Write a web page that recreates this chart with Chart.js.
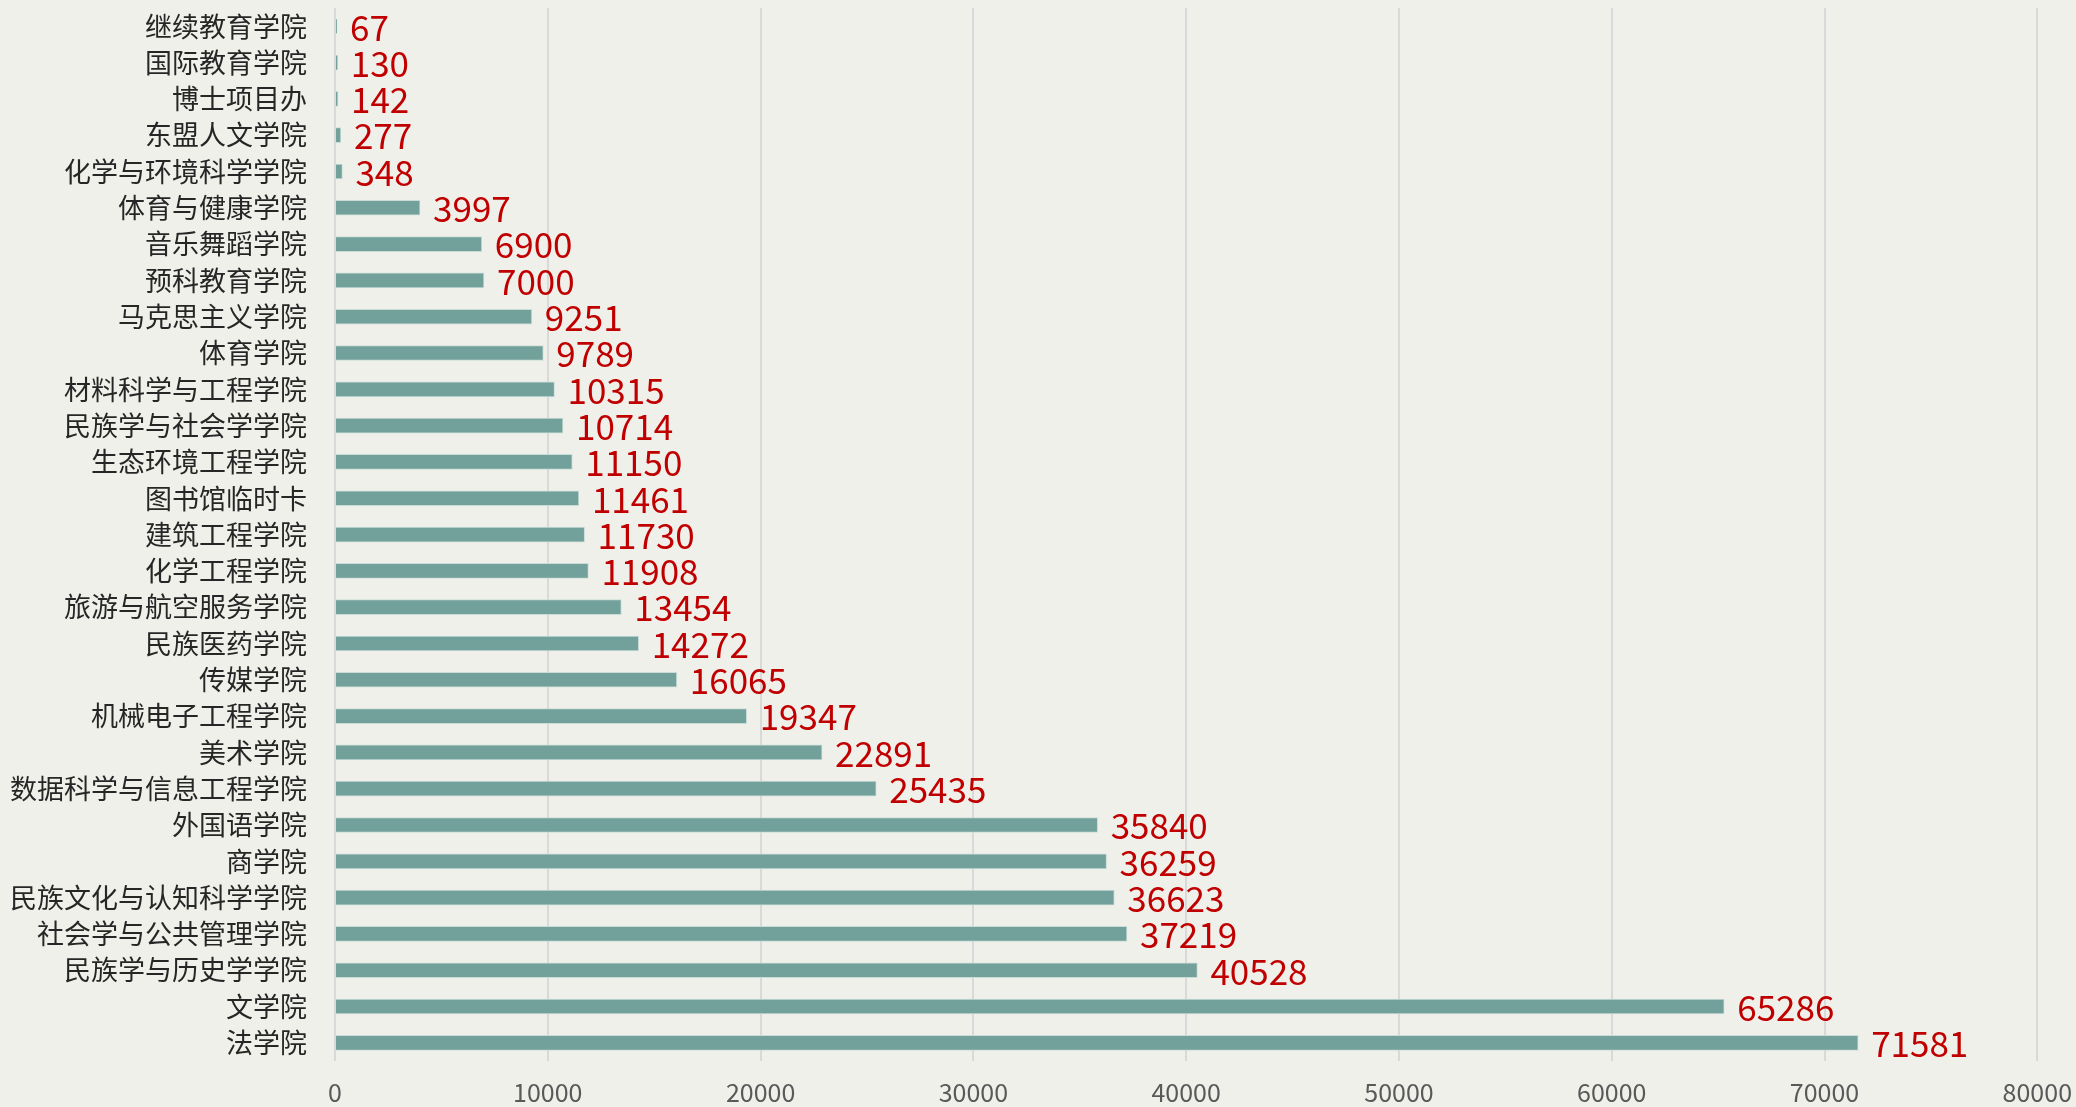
<!DOCTYPE html>
<html>
<head>
<meta charset="utf-8">
<script src="https://cdn.jsdelivr.net/npm/chart.js@4/dist/chart.umd.min.js"></script>
<style>
  html, body { margin: 0; padding: 0; background: #f0f0eb; }
  #wrap { width: 2076px; height: 1107px; }
</style>
</head>
<body>
<div id="wrap"><canvas id="bar-chart" width="2076" height="1107"></canvas></div>
<script>
// 学院名称 (top to bottom)
var colleges = ["继续教育学院", "国际教育学院", "博士项目办", "东盟人文学院", "化学与环境科学学院",
  "体育与健康学院", "音乐舞蹈学院", "预科教育学院", "马克思主义学院", "体育学院",
  "材料科学与工程学院", "民族学与社会学学院", "生态环境工程学院", "图书馆临时卡", "建筑工程学院",
  "化学工程学院", "旅游与航空服务学院", "民族医药学院", "传媒学院", "机械电子工程学院",
  "美术学院", "数据科学与信息工程学院", "外国语学院", "商学院", "民族文化与认知科学学院",
  "社会学与公共管理学院", "民族学与历史学学院", "文学院", "法学院"];

var counts = [67, 130, 142, 277, 348,
  3997, 6900, 7000, 9251, 9789,
  10315, 10714, 11150, 11461, 11730,
  11908, 13454, 14272, 16065, 19347,
  22891, 25435, 35840, 36259, 36623,
  37219, 40528, 65286, 71581];

var xMax = 80000;
var xStep = 10000;

var fontFamily = '"Noto Sans CJK SC", "Noto Sans", sans-serif';

// draw the red value at the end of every bar
var valueLabels = {
  id: 'valueLabels',
  afterDatasetsDraw: function(chart) {
    var ctx = chart.ctx;
    var meta = chart.getDatasetMeta(0);
    ctx.save();
    ctx.font = '35px ' + fontFamily;
    ctx.fillStyle = '#c00000';
    ctx.textAlign = 'left';
    ctx.textBaseline = 'middle';
    meta.data.forEach(function(bar, i) {
      ctx.fillText(String(counts[i]), bar.x + 13, bar.y + 1);
    });
    ctx.restore();
  }
};

new Chart(document.getElementById("bar-chart"), {
  type: 'bar',
  data: {
    labels: colleges,
    datasets: [{
      data: counts,
      backgroundColor: "#72a09a",
      borderColor: "#c9dcd8",
      borderWidth: 1,
      barThickness: 15,
      minBarLength: 2
    }]
  },
  options: {
    indexAxis: 'y',
    responsive: false,
    animation: false,
    layout: { padding: { left: 10, top: 0, right: 0, bottom: -17 } },
    plugins: {
      legend: { display: false },
      title: { display: false },
      tooltip: { enabled: false }
    },
    scales: {
      x: {
        min: 0,
        max: xMax,
        ticks: {
          stepSize: xStep,
          color: '#595959',
          font: { family: fontFamily, size: 25, lineHeight: 2.2 },
          padding: 4,
          callback: function(v) { return String(v); }
        },
        grid: { color: '#d9d9d9', lineWidth: 2, drawTicks: false },
        border: { display: false }
      },
      y: {
        ticks: {
          color: '#262626',
          font: { family: fontFamily, size: 27, lineHeight: 0.6 },
          padding: 0,
          autoSkip: false
        },
        grid: {
          display: true,
          drawOnChartArea: false,
          drawTicks: true,
          tickLength: 28,
          color: 'rgba(0,0,0,0)'
        },
        border: { display: false }
      }
    }
  },
  plugins: [valueLabels]
});
</script>
</body>
</html>
